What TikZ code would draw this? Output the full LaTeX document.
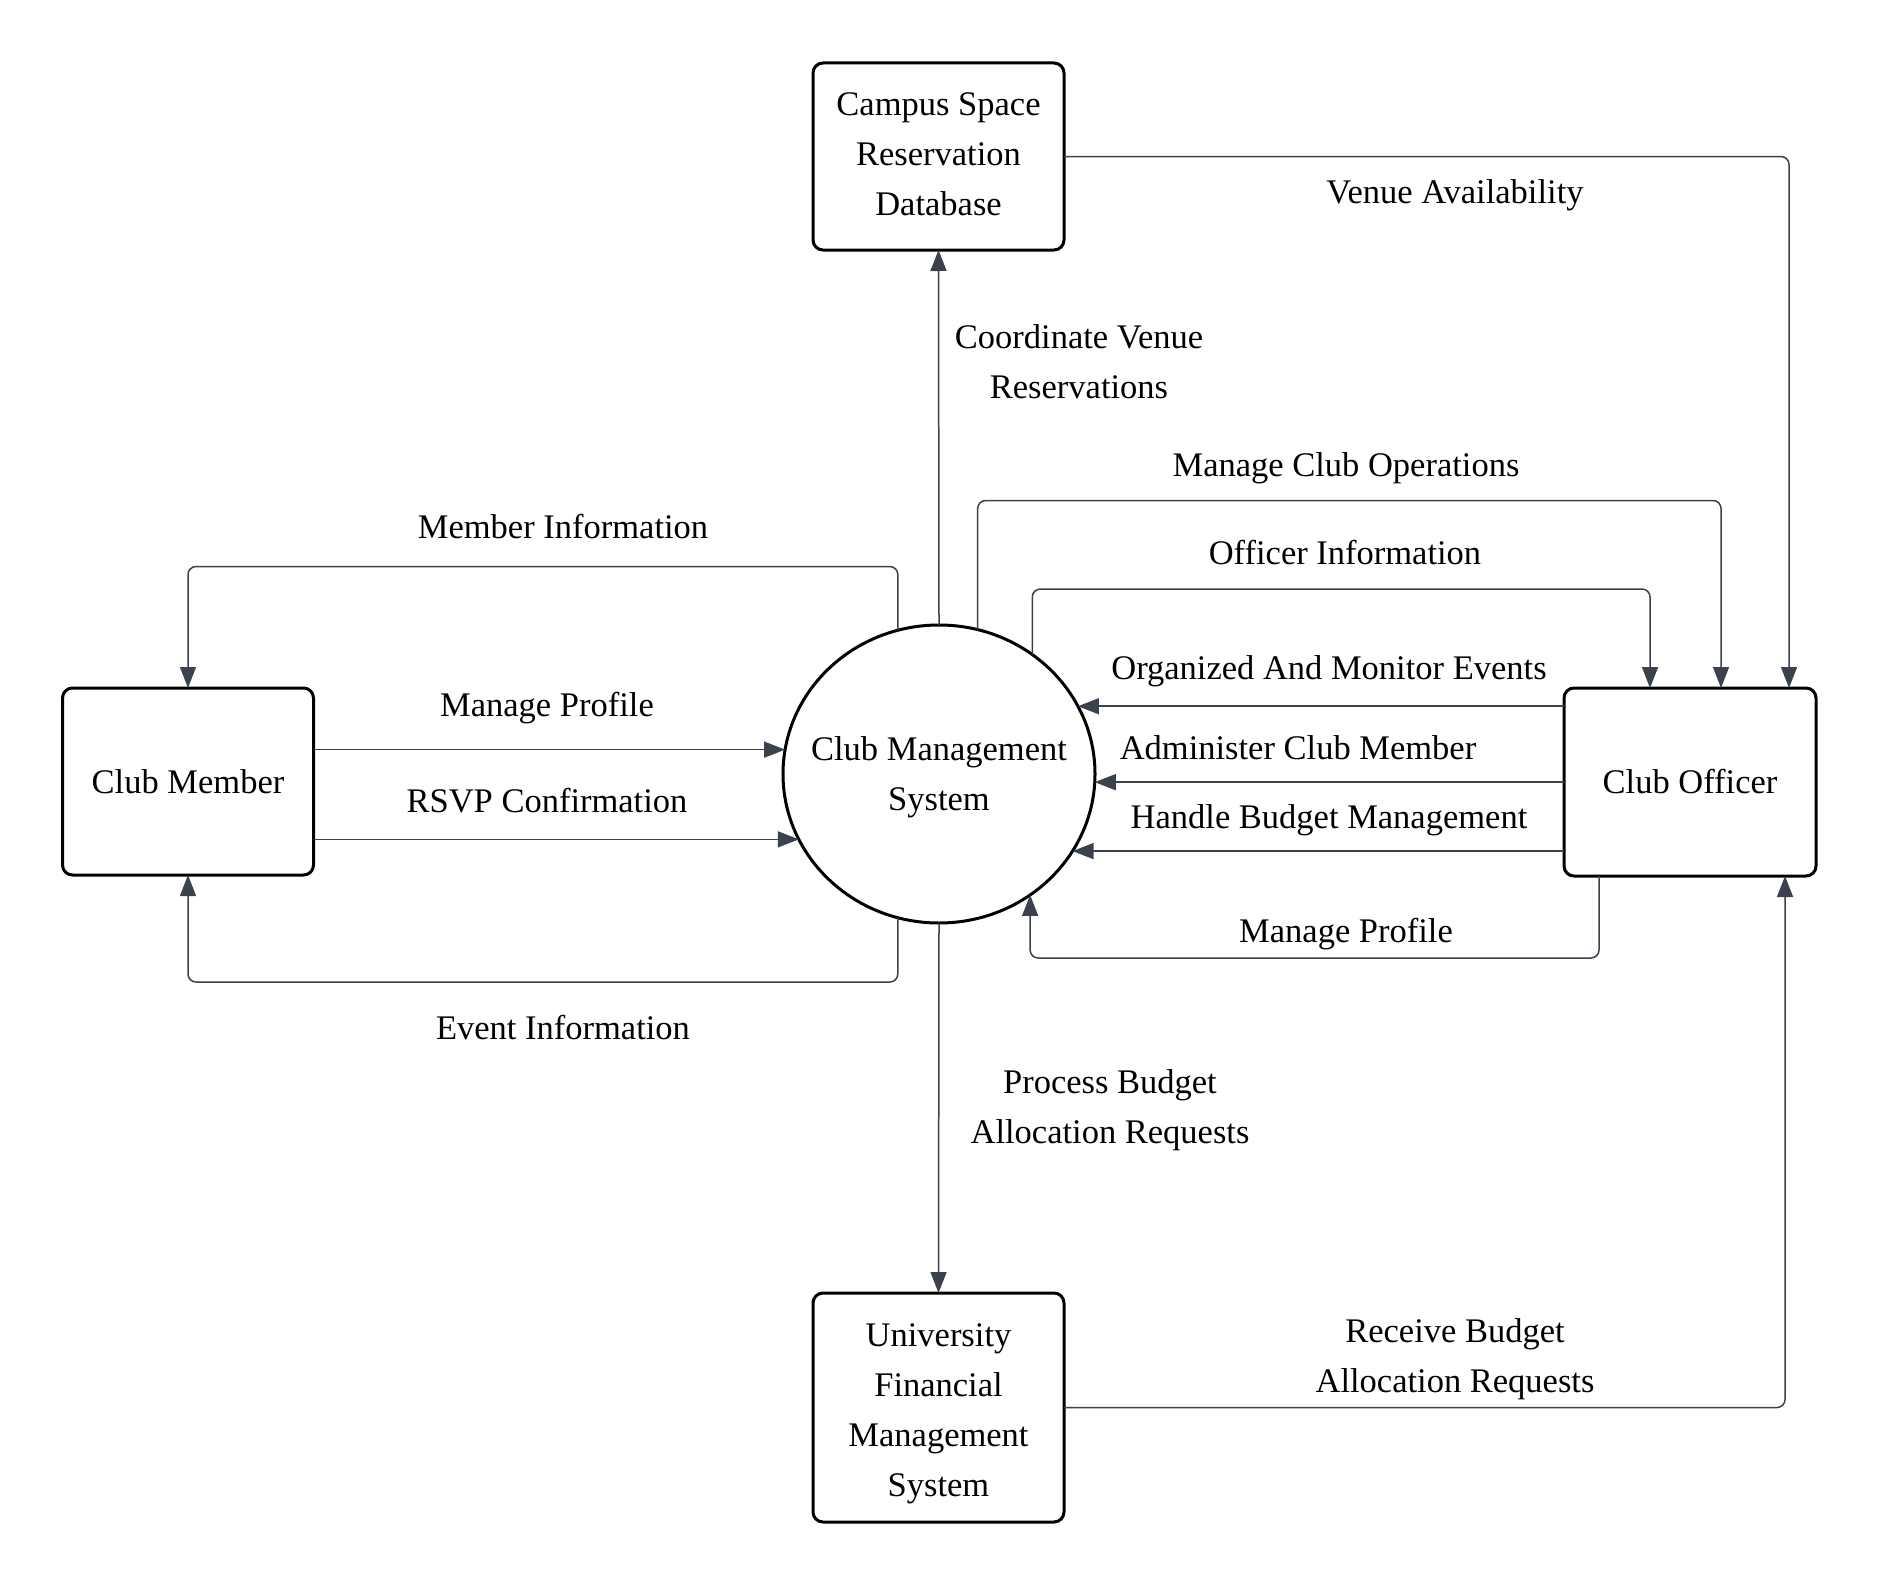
\documentclass[tikz,border=0pt]{standalone}
\usepackage{fontspec}
\setmainfont{Liberation Serif}
\usetikzlibrary{arrows.meta,shapes.geometric}
\definecolor{linec}{RGB}{60,66,77}
\begin{document}
\begin{tikzpicture}[x=0.5pt,y=-0.5pt,
  every node/.style={font=\fontsize{17.25pt}{25pt}\selectfont, text=black},
  box/.style={draw=black, line width=1.5pt, rounded corners=5pt, minimum width=125.5pt, minimum height=93.5pt, align=center, inner sep=0pt, outer sep=0pt},
  proc/.style={draw=black, line width=1.5pt, ellipse, minimum width=156pt, minimum height=149pt, inner sep=0pt, outer sep=0pt},
  flow/.style={draw=linec, line width=0.75pt, rounded corners=4pt, -{Triangle[length=10.5pt,width=8pt]}},
  lbl/.style={align=center, inner sep=0pt}]
\useasboundingbox (0,0) rectangle (1878,1584);

% nodes
\node[box] (campus) at (938.5,156.5) {};
\node[lbl] (campust) at (938.5,154) {Campus Space\\Reservation\\Database};
\node[box] (cm) at (188,781.5) {Club Member};
\node[box, minimum width=126pt, minimum height=94pt] (off) at (1690,782) {Club Officer};
\node[box, minimum height=114.5pt] (univ) at (938.5,1407.5) {};
\node[lbl] (univt) at (938.5,1413.5) {University\\Financial\\Management\\System};
\node[proc] (cms) at (939,774) {};
\node[lbl] (cmst) at (939,777) {Club Management\\System};

% bend coordinates
\coordinate (va) at (1789,156);
\coordinate (mco) at (1721,500.5);
\coordinate (oi) at (1650,589);
\coordinate (mi) at (188,566.5);
\coordinate (ei) at (188,982);
\coordinate (mpa) at (1599,958);
\coordinate (rc) at (1785,1407);

% connectors
\draw[flow] (campus.east) -| (va |- off.north);
\draw[flow] (cms.north) -- (campus.south);
\draw[flow] (cms.75.27) |- (mco) -- (mco |- off.north);
\draw[flow] (cms.52.6) |- (oi) -- (oi |- off.north);
\draw[flow] (cms.106.7) |- (mi) -- (cm.north);
\draw[flow] (cms.254.1) |- (ei) -- (cm.south);
\draw[flow] (cm.east |- cms.171.5) -- (cms.171.5);
\draw[flow] (cm.east |- cms.205.7) -- (cms.205.7);
\draw[flow] (off.west |- cms.26.5) -- (cms.26.5);
\draw[flow] (off.west |- cms.357.1) -- (cms.357.1);
\draw[flow] (off.west |- cms.330.5) -- (cms.330.5);
\draw[flow] (mpa |- off.south) -- (mpa) -- (cms.307.4 |- mpa) -- (cms.307.4);
\draw[flow] (cms.south) -- (univ.north);
\draw[flow] (univ.east) -| (rc |- off.south);

% labels
\node[lbl] (l1) at (1455,195.6) {Venue Availability};
\node[lbl] (l2) at (1079,362) {Coordinate Venue\\Reservations};
\node[lbl] (l3) at (1346,468.6) {Manage Club Operations};
\node[lbl] (l4) at (1345,552.2) {Officer Information};
\node[lbl] (l5) at (563,527) {Member Information};
\node[lbl] (l6) at (547,707.6) {Manage Profile};
\node[lbl] (l7) at (547,800.2) {RSVP Confirmation};
\node[lbl] (l8) at (563,1028) {Event Information};
\node[lbl] (l9) at (1329,671.6) {Organized And Monitor Events};
\node[lbl] (l10) at (1298,747.2) {Administer Club Member};
\node[lbl] (l11) at (1329,820.6) {Handle Budget Management};
\node[lbl] (l12) at (1346,933.8) {Manage Profile};
\node[lbl] (l13) at (1110,1109.8) {Process Budget\\Allocation Requests};
\node[lbl] (l14) at (1455,1359.6) {Receive Budget\\Allocation Requests};
\end{tikzpicture}
\end{document}
